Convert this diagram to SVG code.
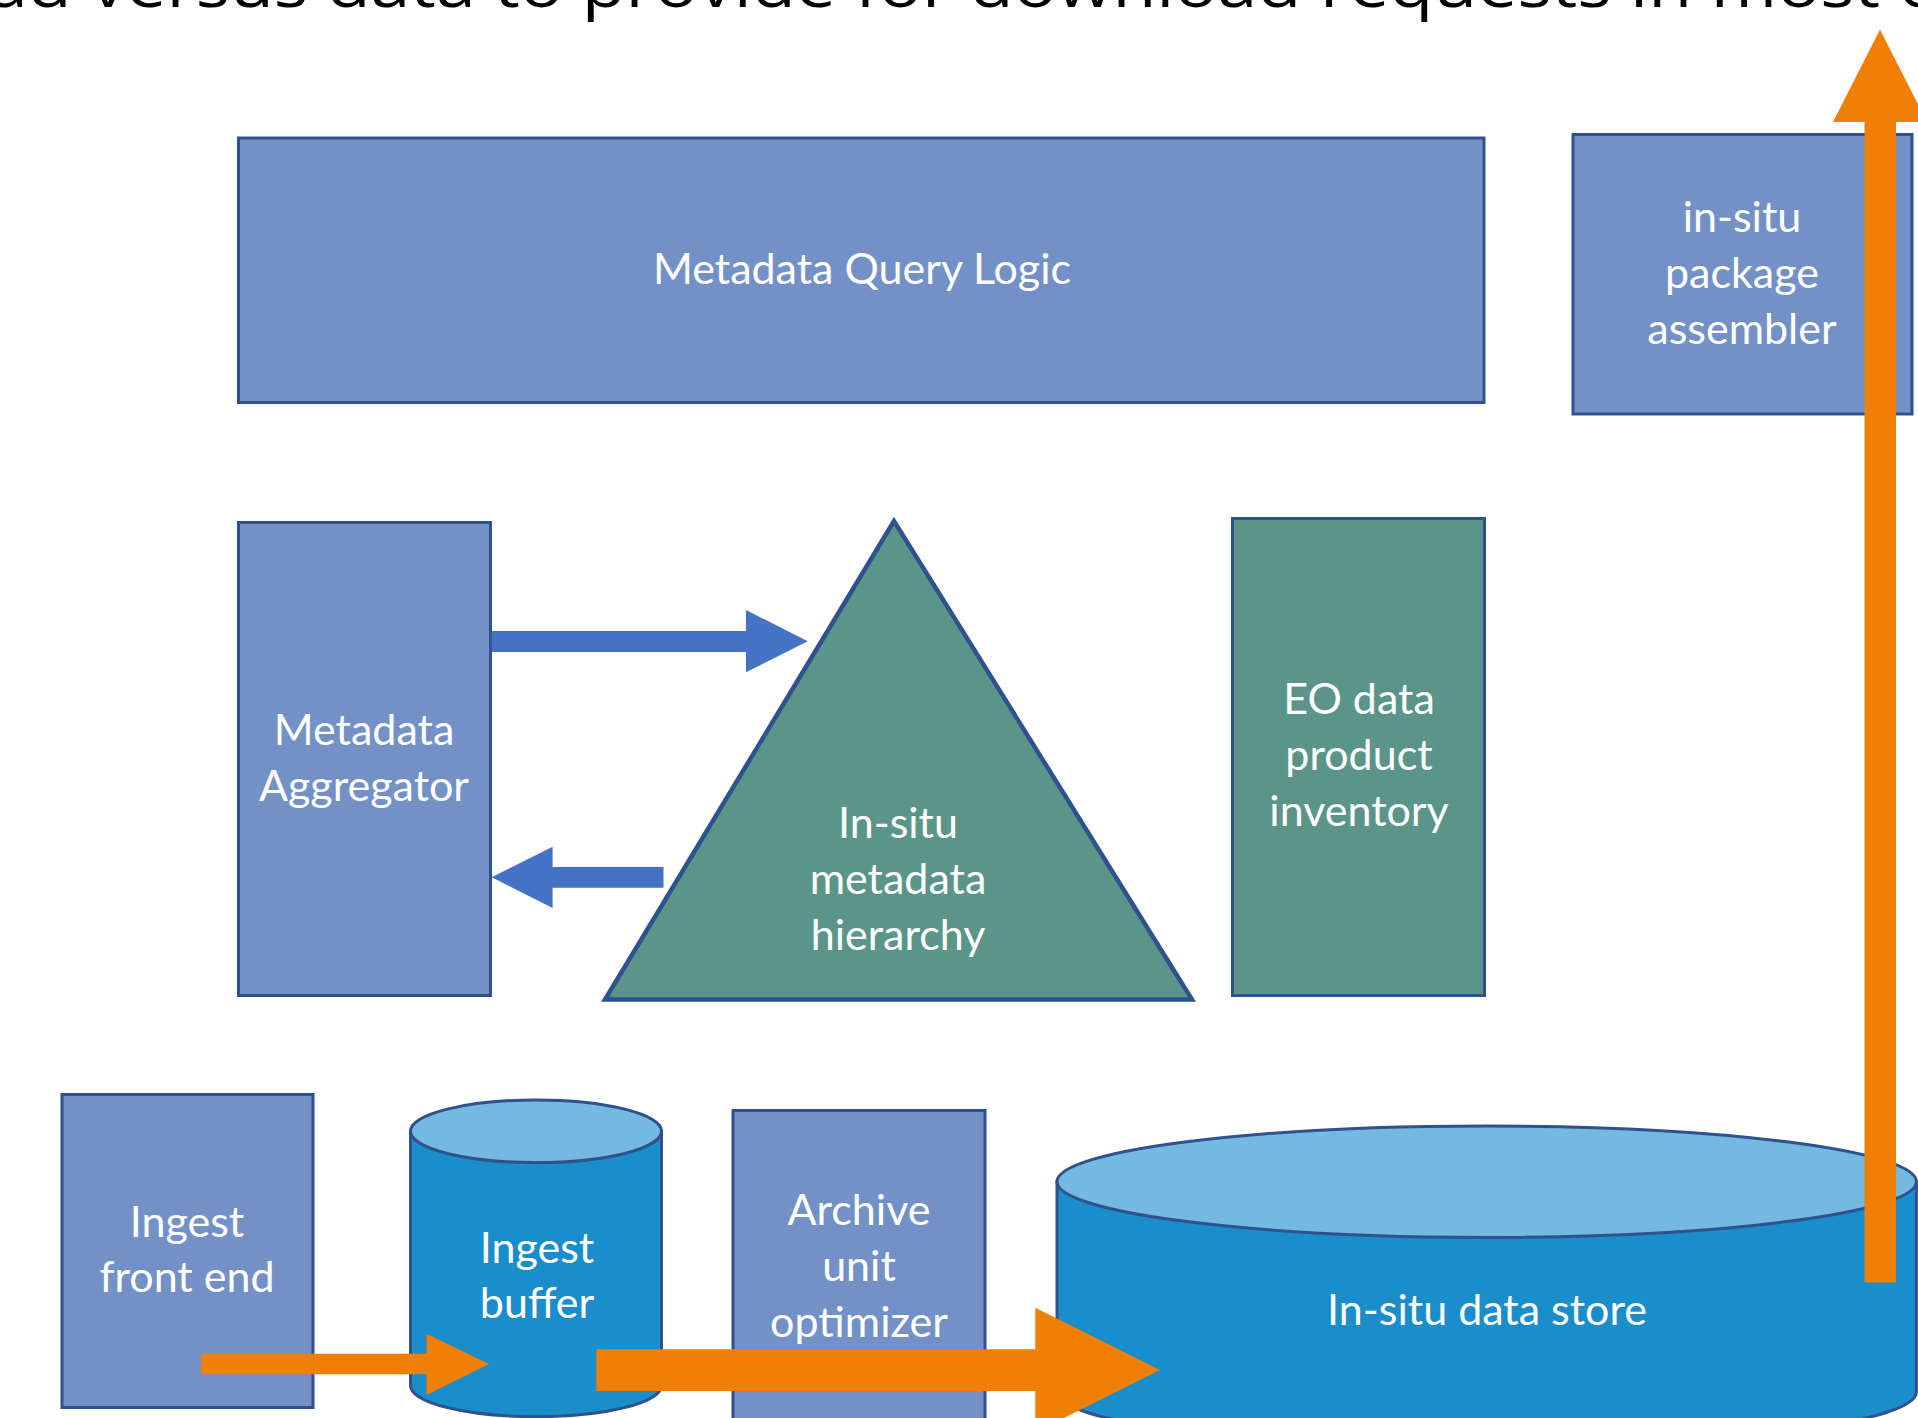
<svg xmlns="http://www.w3.org/2000/svg" width="1918" height="1418" viewBox="0 0 1918 1418">
  <style>
    .box { fill: #7391C7; stroke: #2F528F; stroke-width: 3; }
    .teal { fill: #5B9589; stroke: #2F528F; stroke-width: 3; }
    .tri { fill: #5B9589; stroke: #2F528F; stroke-width: 4.5; stroke-linejoin: miter; }
    .cylBody { fill: #1A8DCB; stroke: #2F528F; stroke-width: 3; }
    .cylTop { fill: #74B9DF; stroke: #2F528F; stroke-width: 3; }
    .lbl { font-family: Lato, "Liberation Sans", sans-serif; font-size: 43px; fill: #FFFFFF; text-anchor: middle; }
    .title { font-family: "Open Sans", "Liberation Sans", sans-serif; font-size: 62px; fill: #000000; }
    .blueArrow { fill: #4472C4; }
    .orangeArrow { fill: #EF7F05; }
  </style>

  <text class="title" x="-12" y="7" textLength="1945" lengthAdjust="spacingAndGlyphs">ad versus data to provide for download requests in most c</text>

  <g id="metadata-query-logic">
    <rect class="box" x="238.5" y="138" width="1245.5" height="264.5"/>
    <text class="lbl" x="862" y="284">Metadata Query Logic</text>
  </g>

  <g id="package-assembler">
    <rect class="box" x="1573" y="134.5" width="339" height="279.5"/>
    <text class="lbl" x="1742" y="232">in-situ</text>
    <text class="lbl" x="1742" y="288">package</text>
    <text class="lbl" x="1742" y="344">assembler</text>
  </g>

  <g id="metadata-aggregator">
    <rect class="box" x="238.5" y="522.5" width="252" height="473"/>
    <text class="lbl" x="364" y="745">Metadata</text>
    <text class="lbl" x="364" y="801">Aggregator</text>
  </g>

  <g id="metadata-hierarchy">
    <polygon class="tri" points="894,521 605,999.5 1192,999.5"/>
    <text class="lbl" x="898" y="838">In-situ</text>
    <text class="lbl" x="898" y="894">metadata</text>
    <text class="lbl" x="898" y="950">hierarchy</text>
  </g>

  <g id="eo-inventory">
    <rect class="teal" x="1232.5" y="518.5" width="252" height="477"/>
    <text class="lbl" x="1359" y="714">EO data</text>
    <text class="lbl" x="1359" y="770">product</text>
    <text class="lbl" x="1359" y="826">inventory</text>
  </g>

  <g id="ingest-front-end">
    <rect class="box" x="62" y="1094.5" width="251" height="313"/>
    <text class="lbl" x="187" y="1237">Ingest</text>
    <text class="lbl" x="187" y="1292">front end</text>
  </g>

  <g id="ingest-buffer">
    <path class="cylBody" d="M410.5,1131.3 L410.5,1385.4 A125.5,31.3 0 0 0 661.5,1385.4 L661.5,1131.3 Z"/>
    <ellipse class="cylTop" cx="536" cy="1131.3" rx="125.5" ry="31.3"/>
  </g>

  <g id="archive-optimizer">
    <rect class="box" x="733" y="1110.5" width="252" height="320"/>
    <text class="lbl" x="859" y="1225">Archive</text>
    <text class="lbl" x="859" y="1281">unit</text>
    <text class="lbl" x="859" y="1337">optimizer</text>
  </g>

  <g id="data-store">
    <path class="cylBody" d="M1057,1181.7 L1057,1392 A429.7,55.7 0 0 0 1916.4,1392 L1916.4,1181.7 Z"/>
    <ellipse class="cylTop" cx="1486.7" cy="1181.7" rx="429.7" ry="55.7"/>
    <text class="lbl" x="1487" y="1325">In-situ data store</text>
  </g>

  <g id="connectors">
    <polygon class="blueArrow" points="491.7,631 746,631 746,610 807.7,641.3 746,672.3 746,652 491.7,652"/>
    <polygon class="blueArrow" points="663.5,867 552.6,867 552.6,846.7 491.7,877.3 552.6,908 552.6,887.7 663.5,887.7"/>
    <polygon class="orangeArrow" points="1864.5,1282.5 1864.5,122 1833,122 1880,29.5 1927,122 1896,122 1896,1282.5"/>
    <polygon class="orangeArrow" points="201.3,1353.7 426.5,1353.7 426.5,1333.7 489,1364 426.5,1395 426.5,1374.3 201.3,1374.3"/>
    <polygon class="orangeArrow" points="596.3,1349.3 1035.3,1349.3 1035.3,1307.7 1160,1370 1035.3,1432.3 1035.3,1391 596.3,1391"/>
  </g>

  <g id="ingest-buffer-label">
    <text class="lbl" x="537" y="1263">Ingest</text>
    <text class="lbl" x="537" y="1318">buffer</text>
  </g>
</svg>
